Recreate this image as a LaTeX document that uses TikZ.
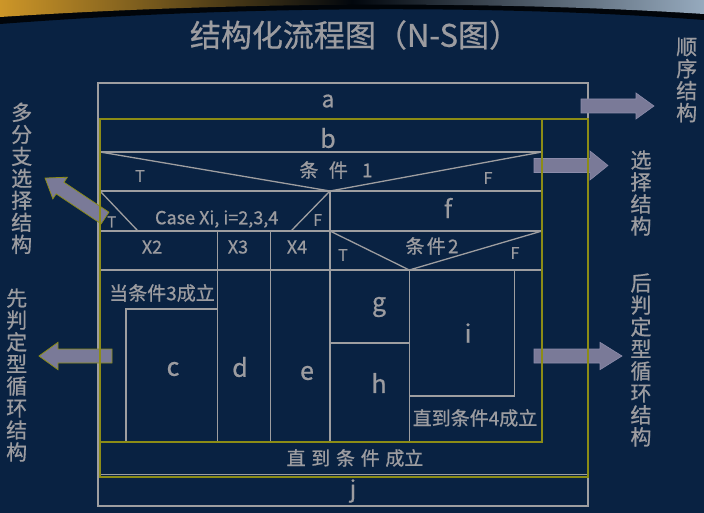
\documentclass[tikz,border=0pt]{standalone}
\usepackage{fontspec}
\setmainfont{Noto Sans CJK SC}[BoldFont=Noto Sans CJK SC, BoldFeatures={FakeBold=0.7}]
\definecolor{bgc}{RGB}{9,34,66}
\definecolor{lnc}{RGB}{158,158,160}
\definecolor{txc}{RGB}{156,156,160}
\definecolor{ylc}{RGB}{140,140,22}
\definecolor{arc}{RGB}{122,122,152}
\definecolor{arl}{RGB}{140,140,170}
\definecolor{goldc}{RGB}{205,150,40}
\definecolor{skyc}{RGB}{150,170,190}
\newcommand\myblockarrow[6]{%
  \draw[#1, shift={#2}, rotate=#3]
    (0,-7) -- ({#4-#5},-7) -- ({#4-#5},-#6) -- (#4,0) -- ({#4-#5},#6) -- ({#4-#5},7) -- (0,7) -- cycle;}
\tikzset{
  gl/.style={draw=lnc, line width=1.3pt},
  ol/.style={draw=lnc, line width=2.2pt},
  yl/.style={draw=ylc, line width=2.5pt},
  lab/.style={text=txc, inner sep=0pt, font=\fontsize{#1}{#1}\selectfont\bfseries},
  lab/.default=17,
  vlab/.style={text=txc, inner sep=0pt, align=center, font=\fontsize{21}{22}\selectfont\bfseries},
  arr/.style={fill=arc, draw=arl, line width=0.6pt},
  arry/.style={fill=arc, draw=ylc, line width=0.8pt}
}
\begin{document}
\begin{tikzpicture}[x=1pt,y=-1pt]
\useasboundingbox (0,0) rectangle (704,513);
\fill[bgc] (0,0) rectangle (704,513);
% top decoration
\fill[black!85!bgc] (0,0) -- (704,0) -- (704,20) .. controls (520,6) and (260,4) .. (0,24) -- cycle;
\shade[left color=goldc, right color=skyc, middle color=black!80!bgc]
  (0,0) -- (704,0) -- (704,14) .. controls (520,2) and (260,0) .. (0,17) -- cycle;

% title
\node[lab=31] (title) at (355,35) {结构化流程图（N-S图）};

% outer gray frame
\draw[ol] (98,83) rectangle (588,506);
\draw[gl] (100,474.5) -- (588,474.5);

% inner grid lines
\draw[gl] (100,152) -- (542,152);
\draw[gl] (100,152) -- (330,191) -- (542,152);
\draw[gl] (100,191) -- (542,191);
\draw[gl] (100,191) -- (138,231);
\draw[gl] (330,191) -- (291,231);
\draw[gl] (330,191) -- (330,442);
\draw[gl] (100,231) -- (542,231);
\draw[gl] (217.7,231) -- (217.7,442);
\draw[gl] (270.7,231) -- (270.7,442);
\draw[gl] (330,231) -- (409.3,270) -- (542,231);
\draw[gl] (100,270) -- (542,270);
\draw[gl] (409.3,270) -- (409.3,442);
\draw[gl] (126,442) -- (126,309) -- (217.7,309);
\draw[gl] (330,343) -- (409.3,343);
\draw[gl] (514.3,270) -- (514.3,396) -- (409.3,396);

% block arrows
\myblockarrow{arr}{(581,106)}{0}{73}{18}{13}
\myblockarrow{arr}{(534,165.5)}{0}{74}{18}{14.5}
\myblockarrow{arr}{(534,356)}{0}{88}{22}{13.7}
\myblockarrow{arry}{(112,356)}{180}{73}{19}{13.7}
\myblockarrow{arry}{(105,218)}{146.3}{72}{18}{13}

% yellow frames
\draw[yl] (100,119) rectangle (588,477);
\draw[yl] (100,119) rectangle (542,442);

% labels
\node[lab=23] (la) at (328,101) {a};
\node[lab=25] (lb) at (328,138) {b};
\node[lab=19] (c1) at (336,170) {条\hspace{0.55em}件\hspace{0.75em}1};
\node[lab=16] (t1) at (140,176) {T};
\node[lab=16] (f1) at (488,178) {F};
\node[lab=18] (cs) at (216.7,219) {Case Xi, i=2,3,4};
\node[lab=15] (t2) at (111.7,222) {T};
\node[lab=16] (f2) at (317.7,220) {F};
\node[lab=25] (lf) at (448,208) {f};
\node[lab=18] (x2) at (152,247) {X2};
\node[lab=18] (x3) at (238,247) {X3};
\node[lab=18] (x4) at (297,247) {X4};
\node[lab=19] (c2) at (432,246) {条\hspace{0.12em}件\hspace{0.12em}2};
\node[lab=16] (t3) at (343,255) {T};
\node[lab=16] (f3) at (515,253) {F};
\node[lab=19] (w3) at (162,293) {当条件3成立};
\node[lab=25] (lc) at (173,369) {c};
\node[lab=25] (ld) at (240,367) {d};
\node[lab=25] (le) at (307,373) {e};
\node[lab=25] (lg) at (379,307) {g};
\node[lab=25] (lh) at (379,383) {h};
\node[lab=25] (li) at (468,333) {i};
\node[lab=19] (u4) at (475,418) {直到条件4成立};
\node[lab=19] (uu) at (355,458) {直\hspace{0.3em}到\hspace{0.3em}条\hspace{0.3em}件\hspace{0.3em}成立};
\node[lab=23] (lj) at (353,491) {j};

% side labels
\node[vlab] (s1) at (686.7,80) {顺\\序\\结\\构};
\node[vlab] (s2) at (641,193) {选\\择\\结\\构};
\node[vlab] (s3) at (641,360) {后\\判\\定\\型\\循\\环\\结\\构};
\node[vlab] (s4) at (21.7,178.3) {多\\分\\支\\选\\择\\结\\构};
\node[vlab] (s5) at (16.7,375) {先\\判\\定\\型\\循\\环\\结\\构};
\end{tikzpicture}
\end{document}
